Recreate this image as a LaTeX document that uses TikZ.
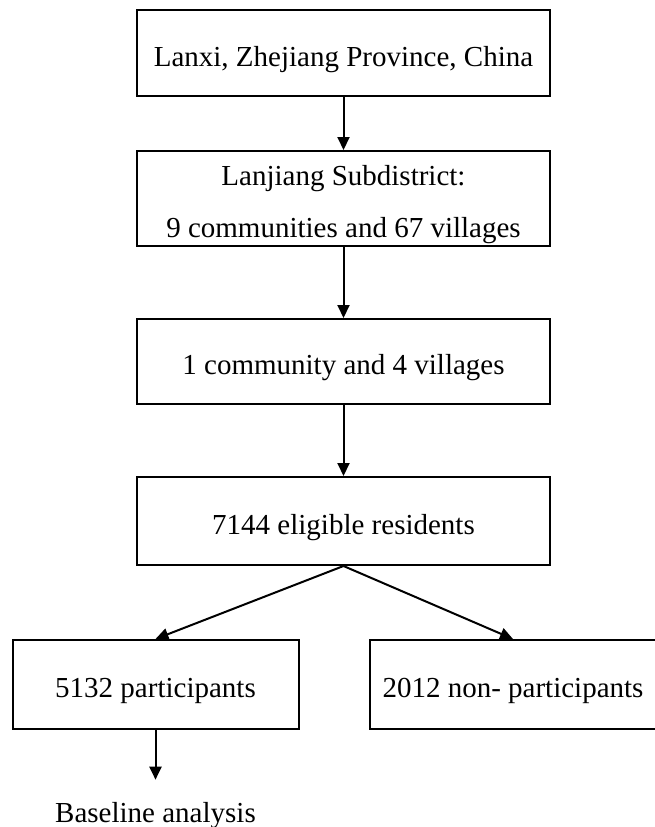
\documentclass[tikz,border=0pt]{standalone}
\usepackage{fontspec}
\setmainfont{Liberation Serif}
\usetikzlibrary{arrows.meta}
\begin{document}
\begin{tikzpicture}[x=1pt,y=-1pt,
  box/.style={draw=black, line width=2pt, fill=white, inner sep=0pt,
    font=\fontsize{29}{35}\selectfont, text height=26pt, text depth=0pt},
  wide/.style={box, minimum width=413pt},
  small/.style={box, minimum width=286pt},
  arr/.style={draw=black, line width=2pt, -{Triangle[length=13pt,width=12pt]}},
  plain/.style={font=\fontsize{29}{35}\selectfont, inner xsep=0pt, inner ysep=22pt}
]
\useasboundingbox (0,0) rectangle (654,827);
\fill[white] (0,0) rectangle (654,827);

\node[wide, minimum height=86pt] (b1) at (343.5,53) {Lanxi, Zhejiang Province, China};
\node[wide, minimum height=95pt, text height=77pt] (b2) at (343.5,198.5)
  {\begin{tabular}[b]{@{}c@{}}Lanjiang Subdistrict:\\[17pt]9 communities and 67 villages\end{tabular}};
\node[wide, minimum height=85pt] (b3) at (343.5,361.5) {1 community and 4 villages};
\node[wide, minimum height=88pt] (b4) at (343.5,521) {7144 eligible residents};
\node[small, minimum height=89pt] (b5) at (155.5,684.5) {5132 participants};
\node[small, minimum height=89pt] (b6) at (513,684.5) {2012 non- participants};
\node[plain, anchor=base] (ba) at (155.5,822) {Baseline analysis};

\draw[arr] (b1.south) -- (b2.north);
\draw[arr] (b2.south) -- (b3.north);
\draw[arr] (b3.south) -- (b4.north);
\draw[arr] (b4.south) -- (b5.north);
\draw[arr] (b4.south) -- (b6.north);
\draw[arr] (b5.south) -- (ba.north);
\end{tikzpicture}
\end{document}
